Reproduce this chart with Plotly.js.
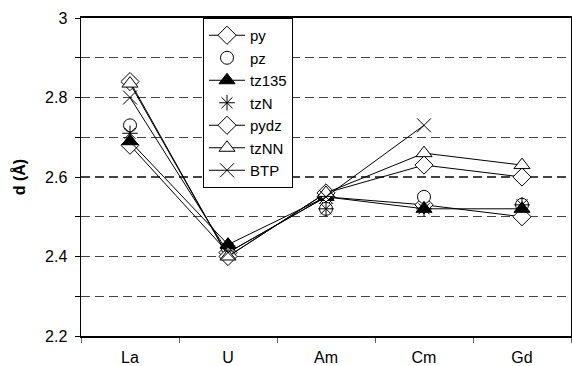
<!DOCTYPE html>
<html>
<head>
<meta charset="utf-8">
<script src="https://cdn.plot.ly/plotly-3.0.1.min.js"></script>
<style>html,body{margin:0;padding:0;background:#fff;}#chart{width:572px;height:366px;}</style>
</head>
<body>
<div id="chart"></div>
<script>
var categories = ["La", "U", "Am", "Cm", "Gd"];
var py    = [2.68, 2.41, 2.55, 2.53, 2.50];
var pz    = [2.73, 2.42, 2.52, 2.55, 2.53];
var tz135 = [2.69, 2.43, 2.55, 2.52, 2.52];
var tzN   = [2.71, 2.42, 2.52, 2.52, 2.53];
var pydz  = [2.84, 2.40, 2.56, 2.63, 2.60];
var tzNN  = [2.835, 2.40, 2.56, 2.66, 2.63];
var BTP   = [2.80, 2.41, 2.55, 2.73, null];

function tr(name, y, mode, symbol, fill, size) {
  return {
    type: "scatter", x: categories, y: y, name: name, mode: mode,
    line: {color: "#000", width: 1},
    marker: {symbol: symbol, size: size, color: fill, line: {color: "#000", width: 1}},
    cliponaxis: false
  };
}
var data = [
  tr("py", py, "lines+markers", "diamond", "#fff", 14),
  tr("pz", pz, "markers", "circle", "#fff", 13),
  tr("tz135", tz135, "lines+markers", "triangle-up", "#000", 14),
  tr("tzN", tzN, "markers", "asterisk-open", "#000", 13),
  tr("pydz", pydz, "lines+markers", "diamond", "#fff", 14),
  tr("tzNN", tzNN, "lines+markers", "triangle-up", "#fff", 14),
  tr("BTP", BTP, "lines+markers", "x-thin-open", "#000", 14)
];

var layout = {
  width: 572, height: 366,
  margin: {l: 81, r: 1, t: 18, b: 30},
  paper_bgcolor: "#fff", plot_bgcolor: "#fff",
  font: {family: "Liberation Sans, Arial, sans-serif", size: 16, color: "#000"},
  showlegend: true,
  legend: {
    x: 0.249, y: 1, xanchor: "left", yanchor: "top",
    bgcolor: "#fff", bordercolor: "#000", borderwidth: 1,
    font: {size: 15}, tracegroupgap: 0, itemwidth: 36
  },
  xaxis: {
    type: "category", tickson: "boundaries", ticks: "outside", ticklen: 5,
    tickcolor: "#666", showline: true, linecolor: "#000", linewidth: 2, mirror: true,
    showgrid: false, zeroline: false, range: [-0.5, 4.5], fixedrange: true,
    ticklabelstandoff: 6
  },
  yaxis: {
    range: [2.2, 3], tick0: 2.2, dtick: 0.2, ticks: "outside", ticklen: 5,
    tickcolor: "#000", showline: true, linecolor: "#000", linewidth: 1.5, mirror: true,
    showgrid: true, gridcolor: "#444", gridwidth: 1.4, griddash: "9px,5px",
    zeroline: false, ticklabelstandoff: 4,
    minor: {dtick: 0.1, ticks: "outside", ticklen: 5, tickcolor: "#000",
            showgrid: true, gridcolor: "#444", gridwidth: 1.4, griddash: "9px,5px"},
    title: {text: "<b>d (Å)</b>", font: {size: 16}, standoff: 15}
  }
};
Plotly.newPlot("chart", data, layout, {displayModeBar: false, staticPlot: true});
</script>
</body>
</html>
